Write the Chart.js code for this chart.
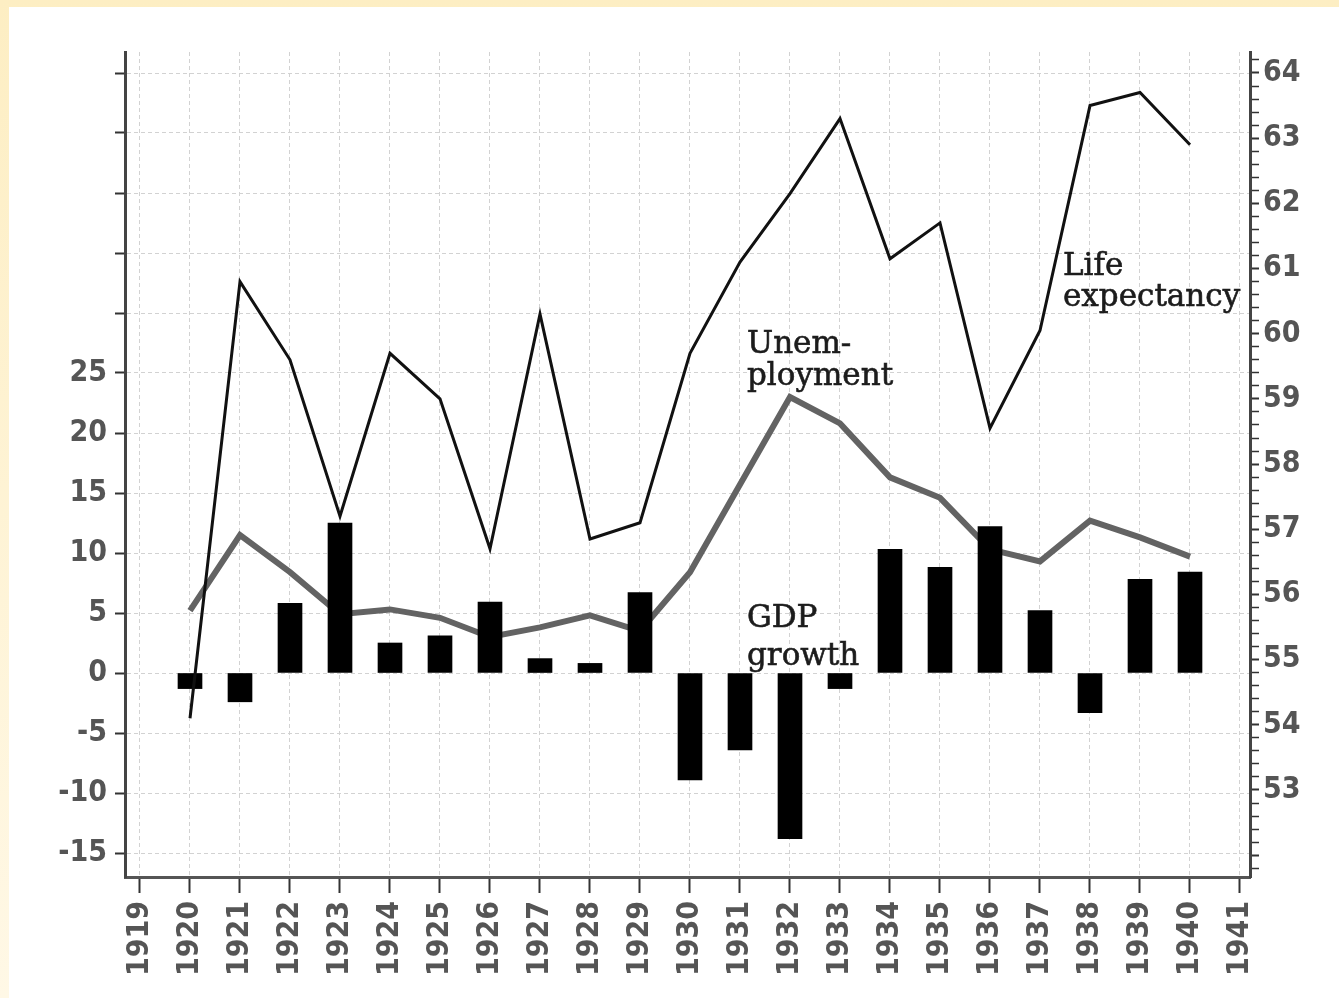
<!DOCTYPE html>
<html>
<head>
<meta charset="utf-8">
<title>GDP growth, unemployment and life expectancy 1920-1940</title>
<script src="https://cdn.jsdelivr.net/npm/chart.js@4.4.1/dist/chart.umd.min.js"></script>
<style>
    html, body { margin: 0; padding: 0; }
    body {
        width: 1339px; height: 998px; overflow: hidden; position: relative;
        background: linear-gradient(#fdeec3, #fff8e6);
    }
    #wrap { position: absolute; left: 9px; top: 7px; width: 1330px; height: 991px; background: #fff; }
</style>
</head>
<body>
<div id="wrap"><canvas id="chart"></canvas></div>
<script>
// data
const years = [1920, 1921, 1922, 1923, 1924, 1925, 1926, 1927, 1928, 1929, 1930,
               1931, 1932, 1933, 1934, 1935, 1936, 1937, 1938, 1939, 1940];
const gdpGrowth = [-1.3, -2.4, 5.8, 12.5, 2.5, 3.1, 5.9, 1.2, 0.8, 6.7, -8.9,
                   -6.4, -13.8, -1.3, 10.3, 8.8, 12.2, 5.2, -3.3, 7.8, 8.4];
const unemployment = [5.2, 11.5, 8.4, 4.9, 5.3, 4.6, 3.0, 3.8, 4.8, 3.5, 8.4,
                      15.7, 23.0, 20.8, 16.3, 14.6, 10.3, 9.3, 12.7, 11.3, 9.7];
const lifeExpectancy = [54.1, 60.8, 59.6, 57.2, 59.7, 59.0, 56.7, 60.3, 56.85, 57.1, 59.7,
                        61.1, 62.15, 63.3, 61.15, 61.7, 58.55, 60.05, 63.5, 63.7, 62.9];

const yearTicks = [1919, 1920, 1921, 1922, 1923, 1924, 1925, 1926, 1927, 1928, 1929, 1930,
                   1931, 1932, 1933, 1934, 1935, 1936, 1937, 1938, 1939, 1940, 1941];
const leftTicks = [-15, -10, -5, 0, 5, 10, 15, 20, 25, 30, 35, 40, 45, 50];
const leftLabelMax = 25;
const rightLabelMin = 53;
const rightTicks = [];
for (let v = 259; v <= 321; v++) rightTicks.push(v / 5);   // every 0.2, labels on whole numbers

// text notes, anchored in data units (x = year, y = left axis)
const notes = [
    { text: 'Life',       x: 1937.46, y: 33.2 },
    { text: 'expectancy', x: 1937.46, y: 30.6 },
    { text: 'Unem-',      x: 1931.14, y: 26.7 },
    { text: 'ployment',   x: 1931.14, y: 24.0 },
    { text: 'GDP',        x: 1931.14, y: 3.8 },
    { text: 'growth',     x: 1931.14, y: 0.7 }
];

const isWhole = v => Math.abs(v - Math.round(v)) < 1e-6;
const toPoints = vals => years.map((yr, i) => ({ x: yr, y: vals[i] }));

const tickFont = { family: "'Liberation Sans Narrow', 'DejaVu Sans Condensed', 'Liberation Sans', sans-serif", size: 30, weight: 'bold' };
const labelGrey = '#555';
const gridGrey = '#d2d2d2';

const notePlugin = {
    id: 'notes',
    afterDatasetsDraw(chart) {
        const ctx = chart.ctx;
        const xs = chart.scales.x, ys = chart.scales.y;
        ctx.save();
        ctx.font = "31px 'DejaVu Serif', 'Liberation Serif', serif";
        ctx.fillStyle = '#1c1c1c';
        ctx.strokeStyle = '#1c1c1c';
        ctx.lineWidth = 0.6;
        ctx.textAlign = 'left';
        ctx.textBaseline = 'alphabetic';
        notes.forEach(n => {
            const px = xs.getPixelForValue(n.x), py = ys.getPixelForValue(n.y);
            ctx.fillText(n.text, px, py);
            ctx.strokeText(n.text, px, py);
        });
        ctx.restore();
    }
};

new Chart(document.getElementById('chart'), {
    type: 'bar',
    data: {
        datasets: [
            {
                type: 'line', label: 'Unemployment', data: toPoints(unemployment), yAxisID: 'y',
                borderColor: '#636363', borderWidth: 6, pointRadius: 0, tension: 0, order: 3
            },
            {
                type: 'bar', label: 'GDP growth', data: toPoints(gdpGrowth), yAxisID: 'y',
                backgroundColor: '#000', barThickness: 24, order: 2
            },
            {
                type: 'line', label: 'Life expectancy', data: toPoints(lifeExpectancy), yAxisID: 'y1',
                borderColor: '#111', borderWidth: 3, pointRadius: 0, tension: 0, order: 1
            }
        ]
    },
    options: {
        responsive: true,
        maintainAspectRatio: false,
        animation: false,
        layout: { padding: { top: 45, left: 0, right: 0, bottom: 0 } },
        plugins: { legend: { display: false }, tooltip: { enabled: false } },
        scales: {
            x: {
                type: 'linear', min: 1918.7, max: 1941.2, offset: false,
                afterBuildTicks: s => { s.ticks = yearTicks.map(v => ({ value: v })); },
                afterFit: s => { s.height = 121; },
                ticks: {
                    autoSkip: false, minRotation: 90, maxRotation: 90, padding: 8,
                    font: tickFont, color: labelGrey,
                    callback: v => String(v)
                },
                grid: { offset: false, color: gridGrey, tickColor: '#333', tickLength: 16, tickWidth: 2 },
                border: { color: '#555', width: 3, dash: [4, 3] }
            },
            y: {
                position: 'left', min: -17, max: 51.75,
                afterBuildTicks: s => { s.ticks = leftTicks.map(v => ({ value: v })); },
                afterFit: s => { s.width = 116; },
                ticks: {
                    padding: 8, font: tickFont, color: labelGrey,
                    callback: v => (v <= leftLabelMax ? String(v) : '')
                },
                grid: { color: gridGrey, tickColor: '#333', tickLength: 10, tickWidth: 2 },
                border: { color: '#444', width: 3, dash: [4, 3] }
            },
            y1: {
                position: 'right', min: 51.665, max: 64.322,
                afterBuildTicks: s => { s.ticks = rightTicks.map(v => ({ value: v })); },
                afterFit: s => { s.width = 89; },
                ticks: {
                    autoSkip: false, padding: 4, font: tickFont, color: labelGrey,
                    callback: v => (isWhole(v) && v >= rightLabelMin ? String(Math.round(v)) : '')
                },
                grid: {
                    drawOnChartArea: false, tickColor: '#333', tickLength: 9,
                    tickWidth: c => (isWhole(c.tick.value) ? 2 : 1.5)
                },
                border: { color: '#444', width: 3 }
            }
        }
    },
    plugins: [notePlugin]
});
</script>
</body>
</html>
